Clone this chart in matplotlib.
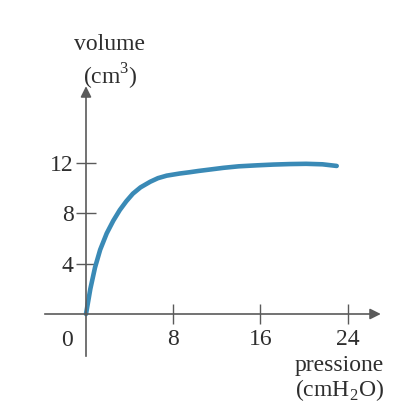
import numpy as np
import matplotlib.pyplot as plt

plt.rcParams['font.family'] = ['Liberation Serif', 'DejaVu Serif']
plt.rcParams['mathtext.fontset'] = 'custom'
plt.rcParams['mathtext.rm'] = 'Liberation Serif'

# curve
pressione = [0, 0.4, 0.83, 1.3, 1.9, 2.5, 3.1, 3.7, 4.3, 5.0, 5.9, 6.6, 7.4, 8.6, 9.5,
             10.3, 11.5, 12.6, 14.0, 15.7, 17.2, 18.7, 20.2, 21.7, 23.0]
volume = [0, 2.0, 3.7, 5.1, 6.4, 7.4, 8.25, 8.95, 9.55, 10.05, 10.5, 10.78, 10.98, 11.15, 11.25,
          11.35, 11.48, 11.6, 11.72, 11.8, 11.86, 11.9, 11.92, 11.88, 11.75]
xticks = [8, 16, 24]
yticks = [4, 8, 12]

axcol = '#5a5a5a'
txtcol = '#2e2e2e'
fig = plt.figure(figsize=(4.15, 4.05), dpi=100)
ax = fig.add_axes([0, 0, 1, 1])
ax.set_xlim(-86 / 10.9, (415 - 86) / 10.9)
ax.set_ylim((314 - 405) / 12.6, 314 / 12.6)

for s in ['top', 'right']:
    ax.spines[s].set_visible(False)
ax.spines['left'].set_position(('data', 0))
ax.spines['bottom'].set_position(('data', 0))
ax.spines['left'].set_bounds(-3.3, 17.5)
ax.spines['bottom'].set_bounds(-3.8, 26.5)
for s in ['left', 'bottom']:
    ax.spines[s].set_color(axcol)
    ax.spines[s].set_linewidth(1.2)

# arrow heads
ax.annotate('', xy=(27.3, 0), xytext=(26.0, 0),
            arrowprops=dict(arrowstyle='-|>', color=axcol, lw=1.2, mutation_scale=16))
ax.annotate('', xy=(0, 18.3), xytext=(0, 17.0),
            arrowprops=dict(arrowstyle='-|>', color=axcol, lw=1.2, mutation_scale=16))

ax.set_xticks(xticks, [str(t) for t in xticks])
ax.set_yticks(yticks, [str(t) for t in yticks])
ax.tick_params(direction='inout', length=14, width=1.0, color=axcol,
               labelsize=17, labelcolor=txtcol)
ax.tick_params(axis='x', pad=4)
ax.tick_params(axis='y', pad=2)

ax.plot(pressione, volume, color='#3a8ab6', lw=3.3, solid_capstyle='round')

ax.text(-1.7, -1.3, '0', ha='center', va='top', fontsize=17, color=txtcol)
ax.text(2.2, 21.4, 'volume', ha='center', va='center', fontsize=17, color=txtcol)
ax.text(2.2, 18.8, '(cm$^3$)', ha='center', va='center', fontsize=17, color=txtcol)
ax.text(23.2, -4.1, 'pressione', ha='center', va='center', fontsize=17, color=txtcol)
ax.text(23.3, -6.0, '(cmH$_2$O)', ha='center', va='center', fontsize=17, color=txtcol)

fig.savefig('out.png', dpi=100)
